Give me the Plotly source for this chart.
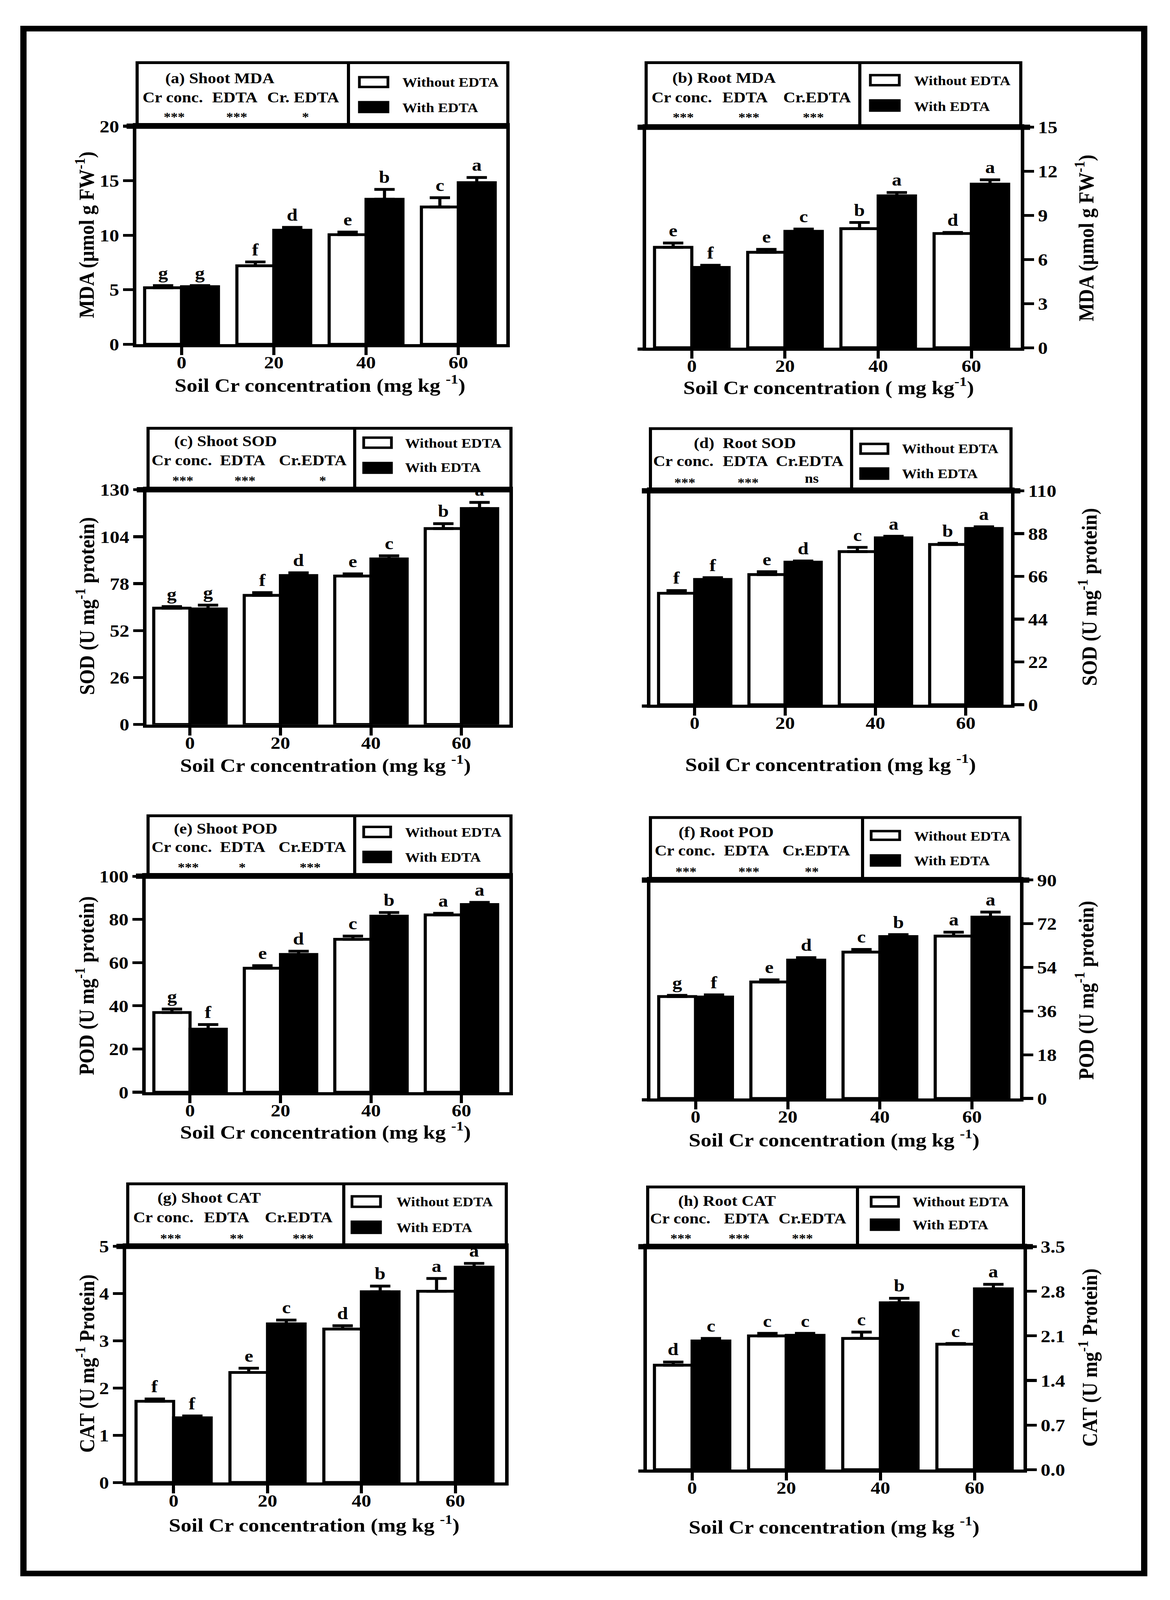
import plotly.graph_objects as go

W, H = 2995, 4550
FONT = "Liberation Serif"

categories = ["0", "20", "40", "60"]
series_names = ["Without EDTA", "With EDTA"]

# (a) Shoot MDA
shoot_mda_without = [5.18, 7.20, 10.05, 12.59]
shoot_mda_with = [5.28, 10.46, 13.30, 14.82]
shoot_mda_err_without = [0.20, 0.35, 0.24, 0.85]
shoot_mda_err_with = [0.10, 0.26, 0.90, 0.47]
shoot_mda_letters_without = ["g", "f", "e", "c"]
shoot_mda_letters_with = ["g", "d", "b", "a"]
shoot_mda_stats = ["***", "***", "*"]

# (b) Root MDA
root_mda_without = [6.83, 6.49, 8.10, 7.77]
root_mda_with = [5.46, 7.92, 10.33, 11.13]
root_mda_err_without = [0.29, 0.20, 0.42, 0.07]
root_mda_err_with = [0.15, 0.15, 0.23, 0.29]
root_mda_letters_without = ["e", "e", "b", "d"]
root_mda_letters_with = ["f", "c", "a", "a"]
root_mda_stats = ["***", "***", "***"]

# (c) Shoot SOD
shoot_sod_without = [64.4, 71.5, 82.2, 108.5]
shoot_sod_with = [64.0, 82.5, 91.7, 119.6]
shoot_sod_err_without = [0.9, 1.5, 1.2, 2.7]
shoot_sod_err_with = [2.1, 1.5, 1.7, 3.4]
shoot_sod_letters_without = ["g", "f", "e", "b"]
shoot_sod_letters_with = ["g", "d", "c", "a"]
shoot_sod_stats = ["***", "***", "*"]

# (d) Root SOD
root_sod_without = [57.3, 66.9, 78.7, 82.4]
root_sod_with = [64.4, 73.3, 85.8, 90.6]
root_sod_err_without = [1.4, 1.5, 2.2, 0.6]
root_sod_err_with = [0.9, 0.6, 0.8, 0.9]
root_sod_letters_without = ["f", "e", "c", "b"]
root_sod_letters_with = ["f", "d", "a", "a"]
root_sod_stats = ["***", "***", "ns"]

# (e) Shoot POD
shoot_pod_without = [36.9, 57.4, 70.8, 82.1]
shoot_pod_with = [29.2, 63.8, 81.5, 86.9]
shoot_pod_err_without = [1.6, 1.2, 1.5, 0.7]
shoot_pod_err_with = [2.1, 1.5, 1.7, 1.0]
shoot_pod_letters_without = ["g", "e", "c", "a"]
shoot_pod_letters_with = ["f", "d", "b", "a"]
shoot_pod_stats = ["***", "*", "***"]

# (f) Root POD
root_pod_without = [42.0, 48.0, 60.3, 66.9]
root_pod_with = [41.8, 57.0, 66.7, 74.7]
root_pod_err_without = [0.5, 0.9, 1.1, 1.6]
root_pod_err_with = [0.9, 1.0, 0.8, 2.1]
root_pod_letters_without = ["g", "e", "c", "a"]
root_pod_letters_with = ["f", "d", "b", "a"]
root_pod_stats = ["***", "***", "**"]

# (g) Shoot CAT
shoot_cat_without = [1.72, 2.33, 3.25, 4.05]
shoot_cat_with = [1.37, 3.36, 4.04, 4.56]
shoot_cat_err_without = [0.05, 0.09, 0.07, 0.27]
shoot_cat_err_with = [0.04, 0.08, 0.12, 0.08]
shoot_cat_letters_without = ["f", "e", "d", "a"]
shoot_cat_letters_with = ["f", "c", "b", "a"]
shoot_cat_stats = ["***", "**", "***"]

# (h) Root CAT
root_cat_without = [1.64, 2.10, 2.06, 1.97]
root_cat_with = [2.02, 2.11, 2.62, 2.84]
root_cat_err_without = [0.05, 0.04, 0.10, 0.01]
root_cat_err_with = [0.04, 0.03, 0.07, 0.07]
root_cat_letters_without = ["d", "c", "c", "c"]
root_cat_letters_with = ["c", "c", "b", "a"]
root_cat_stats = ["***", "***", "***"]

# y-axis tick labels
mda_shoot_ticks = [0, 5, 10, 15, 20]
mda_root_ticks = [0, 3, 6, 9, 12, 15]
sod_shoot_ticks = [0, 26, 52, 78, 104, 130]
sod_root_ticks = [0, 22, 44, 66, 88, 110]
pod_shoot_ticks = [0, 20, 40, 60, 80, 100]
pod_root_ticks = [0, 18, 36, 54, 72, 90]
cat_shoot_ticks = [0, 1, 2, 3, 4, 5]
cat_root_ticks = [0.0, 0.7, 1.4, 2.1, 2.8, 3.5]
cat_root_ticktext = ["0.0", "0.7", "1.4", "2.1", "2.8", "3.5"]

panels = [
    dict(title="(a) Shoot MDA", factors=["Cr conc.", "EDTA", "Cr. EDTA"], stats=shoot_mda_stats,
         wo=shoot_mda_without, w=shoot_mda_with, ewo=shoot_mda_err_without, ew=shoot_mda_err_with,
         lwo=shoot_mda_letters_without, lw=shoot_mda_letters_with,
         ticks=mda_shoot_ticks, ticktext=None, ytitle="MDA (μmol g FW<sup>-1</sup>)",
         xtitle="Soil Cr concentration (mg kg <sup>-1</sup>)",
         side="left", px=(349, 1296), py=(335, 963), xr=(-0.49, 3.52),
         box=(152, 351, 1300, 892), tpos=(562, 197), sy=252, sty=296,
         sx=(442, 601, 776), stx=(446, 606, 782),
         rx=(920, 993), rw=(194, 222), rb=(266, 294), lt=(1028, 209, 282),
         yt=(218, 648), xt=(819, 1077)),
    dict(title="(b) Root MDA", factors=["Cr conc.", "EDTA", "Cr.EDTA"], stats=root_mda_stats,
         wo=root_mda_without, w=root_mda_with, ewo=root_mda_err_without, ew=root_mda_err_with,
         lwo=root_mda_letters_without, lw=root_mda_letters_with,
         ticks=mda_root_ticks, ticktext=None, ytitle="MDA (μmol g FW<sup>-1</sup>)",
         xtitle="Soil Cr concentration ( mg kg<sup>-1</sup>)",
         side="right", px=(1654, 2613), py=(338, 973), xr=(-0.49, 3.53),
         box=(152, 1654, 2613, 2201), tpos=(1853, 196), sy=252, sty=298,
         sx=(1745, 1907, 2091), stx=(1749, 1917, 2082),
         rx=(2228, 2302), rw=(188, 217), rb=(261, 290), lt=(2338, 204, 277),
         yt=(2777, 657), xt=(2121, 1084)),
    dict(title="(c) Shoot SOD", factors=["Cr conc.", "EDTA", "Cr.EDTA"], stats=shoot_sod_stats,
         wo=shoot_sod_without, w=shoot_sod_with, ewo=shoot_sod_err_without, ew=shoot_sod_err_with,
         lwo=shoot_sod_letters_without, lw=shoot_sod_letters_with,
         ticks=sod_shoot_ticks, ticktext=None, ytitle="SOD (U mg<sup>-1</sup> protein)",
         xtitle="Soil Cr concentration (mg kg <sup>-1</sup>)",
         side="left", px=(375, 1304), py=(1382, 2058), xr=(-0.48, 3.53),
         box=(1205, 379, 1308, 908), tpos=(577, 1243), sy=1297, sty=1344,
         sx=(465, 621, 800), stx=(468, 627, 826),
         rx=(931, 1002), rw=(1232, 1261), rb=(1305, 1333), lt=(1035, 1248, 1318),
         yt=(218, 1717), xt=(834, 2172)),
    dict(title="(d)  Root SOD", factors=["Cr conc.", "EDTA", "Cr.EDTA"], stats=root_sod_stats,
         wo=root_sod_without, w=root_sod_with, ewo=root_sod_err_without, ew=root_sod_err_with,
         lwo=root_sod_letters_without, lw=root_sod_letters_with,
         ticks=sod_root_ticks, ticktext=None, ytitle="SOD (U mg<sup>-1</sup> protein)",
         xtitle="Soil Cr concentration (mg kg <sup>-1</sup>)",
         side="right", px=(1665, 2588), py=(1385, 2001), xr=(-0.49, 3.50),
         box=(1206, 1665, 2588, 2180), tpos=(1907, 1248), sy=1299, sty=1349,
         sx=(1749, 1908, 2072), stx=(1753, 1915, 2078),
         rx=(2203, 2273), rw=(1250, 1278), rb=(1321, 1350), lt=(2307, 1264, 1336),
         yt=(2785, 1691), xt=(2126, 2170)),
    dict(title="(e) Shoot POD", factors=["Cr conc.", "EDTA", "Cr.EDTA"], stats=shoot_pod_stats,
         wo=shoot_pod_without, w=shoot_pod_with, ewo=shoot_pod_err_without, ew=shoot_pod_err_with,
         lwo=shoot_pod_letters_without, lw=shoot_pod_letters_with,
         ticks=pod_shoot_ticks, ticktext=None, ytitle="POD (U mg<sup>-1</sup> protein)",
         xtitle="Soil Cr concentration (mg kg <sup>-1</sup>)",
         side="left", px=(373, 1304), py=(2495, 3117), xr=(-0.49, 3.53),
         box=(2321, 379, 1308, 908), tpos=(577, 2358), sy=2411, sty=2457,
         sx=(465, 621, 799), stx=(482, 620, 794),
         rx=(931, 1000), rw=(2353, 2382), rb=(2425, 2454), lt=(1035, 2368, 2440),
         yt=(218, 2811), xt=(834, 3228)),
    dict(title="(f) Root POD", factors=["Cr conc.", "EDTA", "Cr.EDTA"], stats=root_pod_stats,
         wo=root_pod_without, w=root_pod_with, ewo=root_pod_err_without, ew=root_pod_err_with,
         lwo=root_pod_letters_without, lw=root_pod_letters_with,
         ticks=pod_root_ticks, ticktext=None, ytitle="POD (U mg<sup>-1</sup> protein)",
         xtitle="Soil Cr concentration (mg kg <sup>-1</sup>)",
         side="right", px=(1665, 2611), py=(2506, 3135), xr=(-0.49, 3.52),
         box=(2326, 1665, 2611, 2208), tpos=(1859, 2368), sy=2421, sty=2470,
         sx=(1753, 1911, 2089), stx=(1756, 1917, 2078),
         rx=(2230, 2303), rw=(2365, 2390), rb=(2435, 2464), lt=(2338, 2379, 2451),
         yt=(2777, 2824), xt=(2135, 3250)),
    dict(title="(g) Shoot CAT", factors=["Cr conc.", "EDTA", "Cr.EDTA"], stats=shoot_cat_stats,
         wo=shoot_cat_without, w=shoot_cat_with, ewo=shoot_cat_err_without, ew=shoot_cat_err_with,
         lwo=shoot_cat_letters_without, lw=shoot_cat_letters_with,
         ticks=cat_shoot_ticks, ticktext=None, ytitle="CAT (U mg<sup>-1</sup> Protein)",
         xtitle="Soil Cr concentration (mg kg <sup>-1</sup>)",
         side="left", px=(323, 1293), py=(3561, 4241), xr=(-0.505, 3.53),
         box=(3381, 327, 1296, 880), tpos=(535, 3421), sy=3477, sty=3526,
         sx=(418, 580, 765), stx=(437, 606, 776),
         rx=(901, 974), rw=(3417, 3447), rb=(3490, 3522), lt=(1013, 3432, 3507),
         yt=(218, 3899), xt=(804, 4360)),
    dict(title="(h) Root CAT", factors=["Cr conc.", "EDTA", "Cr.EDTA"], stats=root_cat_stats,
         wo=root_cat_without, w=root_cat_with, ewo=root_cat_err_without, ew=root_cat_err_with,
         lwo=root_cat_letters_without, lw=root_cat_letters_with,
         ticks=cat_root_ticks, ticktext=cat_root_ticktext, ytitle="CAT (U mg<sup>-1</sup> Protein)",
         xtitle="Soil Cr concentration (mg kg <sup>-1</sup>)",
         side="right", px=(1656, 2620), py=(3562, 4204), xr=(-0.48, 3.52),
         box=(3390, 1658, 2620, 2195), tpos=(1861, 3430), sy=3480, sty=3526,
         sx=(1741, 1911, 2079), stx=(1743, 1892, 2054),
         rx=(2230, 2300), rw=(3419, 3446), rb=(3484, 3513), lt=(2334, 3432, 3499),
         yt=(2785, 3882), xt=(2135, 4365)),
]


def fx(v):
    return v / W


def fy(v):
    return 1 - v / H


def bold(size):
    return dict(family=FONT, size=size, color="black", weight="bold")


fig = go.Figure()
layout = {}
shapes = []
annotations = []

# outer frame
shapes.append(dict(type="rect", xref="paper", yref="paper", x0=fx(60), x1=fx(2929), y0=fy(54), y1=fy(4503),
                   line=dict(color="black", width=16), fillcolor="rgba(0,0,0,0)"))

xpos = list(range(len(categories)))

for k, p in enumerate(panels, start=1):
    xr_ = "x" if k == 1 else f"x{k}"
    yr_ = "y" if k == 1 else f"y{k}"
    xa = "xaxis" if k == 1 else f"xaxis{k}"
    ya = "yaxis" if k == 1 else f"yaxis{k}"

    fig.add_trace(go.Bar(x=xpos, y=p["wo"], name=series_names[0], xaxis=xr_, yaxis=yr_,
                         marker=dict(color="white", line=dict(color="black", width=8)),
                         error_y=dict(type="data", array=p["ewo"], arrayminus=[0] * 4, symmetric=False,
                                      color="black", thickness=8, width=26),
                         showlegend=False))
    fig.add_trace(go.Bar(x=xpos, y=p["w"], name=series_names[1], xaxis=xr_, yaxis=yr_,
                         marker=dict(color="black", line=dict(color="black", width=8)),
                         error_y=dict(type="data", array=p["ew"], arrayminus=[0] * 4, symmetric=False,
                                      color="black", thickness=8, width=26),
                         showlegend=False))

    x0, x1 = p["px"]
    ytop, ybot = p["py"]
    layout[xa] = dict(domain=[fx(x0), fx(x1)], range=list(p["xr"]), anchor=yr_,
                      tickmode="array", tickvals=xpos, ticktext=categories,
                      ticks="outside", ticklen=22, tickwidth=8, tickcolor="black",
                      ticklabelstandoff=-22,
                      showline=True, linewidth=9, linecolor="black", mirror=True,
                      showgrid=False, zeroline=False, tickfont=bold(50))
    ymax = p["ticks"][-1]
    layout[ya] = dict(domain=[fy(ybot), fy(ytop)], range=[0, ymax], anchor=xr_, side=p["side"],
                      tickmode="array", tickvals=p["ticks"],
                      ticktext=p["ticktext"] if p["ticktext"] else [str(t) for t in p["ticks"]],
                      ticks="outside", ticklen=25, tickwidth=8, tickcolor="black",
                      showline=True, linewidth=9, linecolor="black", mirror=True,
                      showgrid=False, zeroline=False, tickfont=bold(50))

    # statistics / legend box
    btop, bl, br, bdiv = p["box"]
    shapes.append(dict(type="rect", xref="paper", yref="paper", x0=fx(bl), x1=fx(br), y0=fy(btop), y1=fy(ytop),
                       line=dict(color="black", width=8), fillcolor="rgba(0,0,0,0)"))
    shapes.append(dict(type="line", xref="paper", yref="paper", x0=fx(bdiv), x1=fx(bdiv), y0=fy(btop), y1=fy(ytop),
                       line=dict(color="black", width=8)))
    if p["side"] == "left":
        lx0, lx1 = x0 - 25, x1
    else:
        lx0, lx1 = x0 - 22, x1 + 24
        shapes.append(dict(type="line", xref="paper", yref="paper", x0=fx(x0 - 22), x1=fx(x0),
                           y0=fy(ybot + 4), y1=fy(ybot + 4), line=dict(color="black", width=9)))
    shapes.append(dict(type="line", xref="paper", yref="paper", x0=fx(lx0), x1=fx(lx1), y0=fy(ytop), y1=fy(ytop),
                       line=dict(color="black", width=15)))
    # legend swatches
    rx0, rx1 = p["rx"]
    shapes.append(dict(type="rect", xref="paper", yref="paper", x0=fx(rx0), x1=fx(rx1), y0=fy(p["rw"][0]),
                       y1=fy(p["rw"][1]), line=dict(color="black", width=7), fillcolor="white"))
    shapes.append(dict(type="rect", xref="paper", yref="paper", x0=fx(rx0), x1=fx(rx1), y0=fy(p["rb"][0]),
                       y1=fy(p["rb"][1]), line=dict(color="black", width=7), fillcolor="black"))
    ltx, lty1, lty2 = p["lt"]
    for name, ty in zip(series_names, (lty1, lty2)):
        annotations.append(dict(text=name, x=fx(ltx), y=fy(ty), xref="paper", yref="paper", xanchor="left",
                                yanchor="middle", showarrow=False, font=bold(38)))
    # panel title and statistics
    annotations.append(dict(text=p["title"], x=fx(p["tpos"][0]), y=fy(p["tpos"][1]), xref="paper", yref="paper",
                            xanchor="center", yanchor="middle", showarrow=False, font=bold(43)))
    for fac, sxv in zip(p["factors"], p["sx"]):
        annotations.append(dict(text=fac, x=fx(sxv), y=fy(p["sy"]), xref="paper", yref="paper",
                                xanchor="center", yanchor="middle", showarrow=False, font=bold(43)))
    for st, sxv in zip(p["stats"], p["stx"]):
        yy = p["sty"] + (12 if st.startswith("*") else 0)
        annotations.append(dict(text=st, x=fx(sxv), y=fy(yy), xref="paper", yref="paper",
                                xanchor="center", yanchor="middle", showarrow=False,
                                font=bold(36 if st.startswith("*") else 38)))
    # axis titles
    annotations.append(dict(text=p["ytitle"], x=fx(p["yt"][0]), y=fy(p["yt"][1]), xref="paper", yref="paper",
                            xanchor="center", yanchor="middle", textangle=-90, showarrow=False, font=bold(55)))
    annotations.append(dict(text=p["xtitle"], x=fx(p["xt"][0]), y=fy(p["xt"][1]), xref="paper", yref="paper",
                            xanchor="center", yanchor="middle", showarrow=False, font=bold(55)))
    # significance letters
    for vals, errs, lets, off in ((p["wo"], p["ewo"], p["lwo"], -0.2), (p["w"], p["ew"], p["lw"], 0.2)):
        for i, (v, e, l) in enumerate(zip(vals, errs, lets)):
            annotations.append(dict(text=l, x=i + off, y=v + e, xref=xr_, yref=yr_, xanchor="center",
                                    yanchor="bottom", yshift=6, showarrow=False, font=bold(50)))

fig.update_layout(
    width=W, height=H, autosize=False, margin=dict(l=0, r=0, t=0, b=0, pad=0),
    paper_bgcolor="white", plot_bgcolor="white",
    barmode="group", bargap=0.2, bargroupgap=0,
    font=dict(family=FONT, color="black"),
    shapes=shapes, annotations=annotations, showlegend=False,
    **layout,
)

# fit the fixed-size figure into the browser viewport if the viewport is smaller
post = ("document.documentElement.style.margin='0';document.body.style.margin='0';"
        "document.body.style.overflow='hidden';document.documentElement.style.overflow='hidden';"
        "var gd=document.getElementById('{plot_id}');"
        "var sx=Math.min(1, window.innerWidth/%d), sy=Math.min(1, window.innerHeight/%d);"
        "gd.style.transformOrigin='0 0';gd.style.transform='scale('+sx+','+sy+')';" % (W, H))

fig.write_html("out.html", config={"displayModeBar": False}, post_script=post)
